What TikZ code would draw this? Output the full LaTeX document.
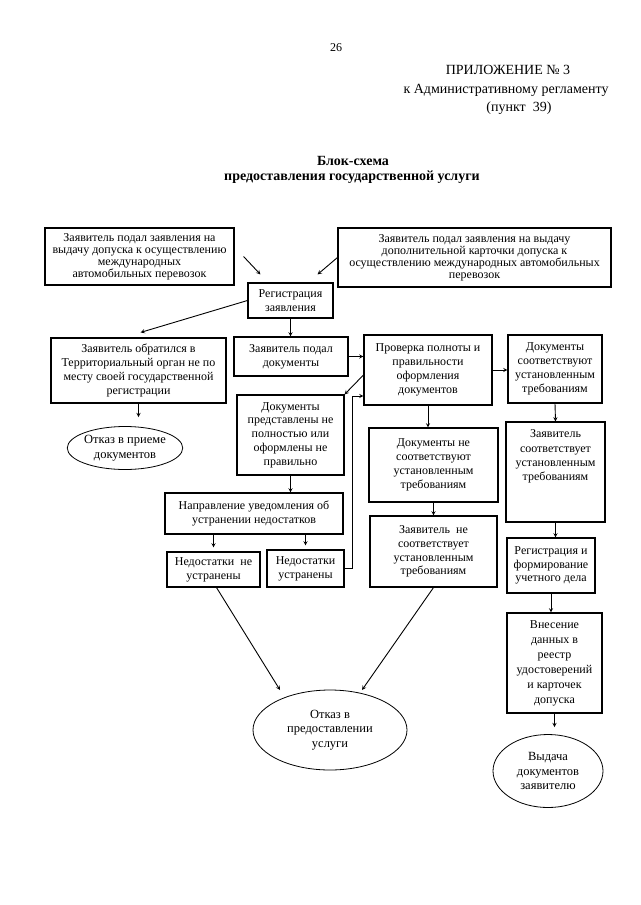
\documentclass[tikz,border=0pt]{standalone}
\usepackage{fontspec}
\setmainfont{Liberation Serif}
\usetikzlibrary{shapes.geometric,calc}

\begin{document}
\begin{tikzpicture}[x=1pt,y=-1pt,>=stealth,
 box/.style={draw,line width=1.1pt,align=center,inner sep=1pt,font=\fontsize{12}{13.8}\selectfont},
 tight/.style={font=\fontsize{12}{12}\selectfont},
 oval/.style={draw,ellipse,line width=0.8pt,align=center,inner sep=0pt,font=\fontsize{12.5}{14.5}\selectfont},
 link/.style={->,line width=0.9pt}]
\useasboundingbox (0,0) rectangle (640,905);
\node[font=\fontsize{12}{14}\selectfont] (pg) at (336,48) {26};
\node[font=\fontsize{14}{16}\selectfont] (pril) at (508,70) {ПРИЛОЖЕНИЕ № 3};
\node[font=\fontsize{14}{16}\selectfont] (reglam) at (506,90) {к Административному регламенту};
\node[font=\fontsize{14}{16}\selectfont] (punkt) at (519,108) {(пункт~ 39)};
\node[font=\fontsize{14}{16}\selectfont\bfseries] (title1) at (353,161) {Блок-схема};
\node[font=\fontsize{14}{16}\selectfont\bfseries] (title2) at (352,177) {предоставления государственной услуги};
% applications
\node[box,tight,minimum width=189pt,minimum height=57pt] (zay1) at (139.5,256.5)
 {Заявитель подал заявления на\\выдачу допуска к осуществлению\\международных\\автомобильных перевозок};
\node[box,tight,minimum width=273pt,minimum height=59pt] (zay2) at (474.5,257.5)
 {Заявитель подал заявления на выдачу\\дополнительной карточки допуска к\\осуществлению международных автомобильных\\перевозок};
\node[box,minimum width=85pt,minimum height=35pt] (reg) at (290.5,300.5) {Регистрация\\заявления};
% left branch
\node[box,minimum width=175pt,minimum height=65pt] (terr) at (138.5,370.5)
 {Заявитель обратился в\\Территориальный орган не по\\месту своей государственной\\регистрации};
\node[oval,minimum width=114pt,minimum height=43pt] (otk1) at (125,448) {Отказ в приеме\\документов};
% check of documents
\node[box,minimum width=114pt,minimum height=39pt] (podal) at (291,356.5) {Заявитель подал\\документы};
\node[box,minimum width=128pt,minimum height=70pt] (prov) at (428,370)
 {Проверка полноты и\\правильности\\оформления\\документов};
\node[box,minimum width=107pt,minimum height=80pt] (nepoln) at (290.5,435)
 {Документы\\представлены не\\полностью или\\оформлены не\\правильно};
\node[box,minimum width=178pt,minimum height=41pt] (naprav) at (254,513.5)
 {Направление уведомления об\\устранении недостатков};
\node[box,minimum width=93pt,minimum height=35pt] (neustr) at (213.5,569.5) {Недостатки~ не\\устранены};
\node[box,minimum width=77pt,minimum height=37pt] (ustr) at (305.5,568.5) {Недостатки\\устранены};
\node[box,minimum width=129pt,minimum height=74pt] (nesoot) at (433.5,465)
 {Документы не\\соответствуют\\установленным\\требованиям};
\node[box,minimum width=127pt,minimum height=71pt] (zne) at (433.5,551.5)
 {Заявитель~ не\\соответствует\\установленным\\требованиям};
\node[oval,minimum width=154pt,minimum height=80pt] (otk2) at (330,730) {Отказ в\\предоставлении\\услуги};
% right branch
\node[box,minimum width=94pt,minimum height=68pt] (soot) at (555,369)
 {Документы\\соответствуют\\установленным\\требованиям};
\node[box,minimum width=99pt,minimum height=100pt,
 label={[anchor=north,yshift=-5pt,align=center,font=\fontsize{12}{14.3}\selectfont]north:{Заявитель\\соответствует\\установленным\\требованиям}}] (zsoot) at (555.5,472) {};
\node[box,minimum width=88pt,minimum height=55pt] (regf) at (551,565.5)
 {Регистрация и\\формирование\\учетного дела};
\node[box,font=\fontsize{12}{15}\selectfont,minimum width=95pt,minimum height=100pt] (vnes) at (554.5,663)
 {Внесение\\данных в\\реестр\\удостоверений\\и карточек\\допуска};
\node[oval,minimum width=110pt,minimum height=73pt] (vyd) at (548,771) {Выдача\\документов\\заявителю};
% connectors
\draw[link] ($(zay1.east)+(9,0)$) -- ($(reg.north west)+(13,-8)$);
\draw[link] (zay2.west) -- ($(reg.north east)+(-16,-8)$);
\draw[link] (reg.west) -- ($(terr.north)+(2,-5)$);
\draw[link] (reg.south) -- (reg.south |- podal.north);
\draw[link,shorten >=9pt] (terr.south) -- (terr.south |- otk1.north);
\draw[link] (podal.east) -- (podal.east -| prov.west);
\draw[link] ($(prov.west)+(0,5)$) -- (nepoln.north east);
\draw[link] (ustr.east) -- ++(8,0) |- ($(prov.west)+(0,26)$);
\draw[link] (prov.east) -- (prov.east -| soot.west);
\draw[link] (soot.south) -- (zsoot.north);
\draw[link] (prov.south) -- (prov.south |- nesoot.north);
\draw[link] (nesoot.south) -- (zne.north);
\draw[link] (nepoln.south) -- (nepoln.south |- naprav.north);
\draw[link,shorten >=4pt] (neustr.north |- naprav.south) -- (neustr.north);
\draw[link,shorten >=4pt] (ustr.north |- naprav.south) -- (ustr.north);
\draw[link] ($(neustr.south)+(3,0)$) -- ($(otk2.center)+(-50,-40)$);
\draw[link] (zne.south) -- ($(otk2.center)+(32,-40)$);
\draw[link] (zsoot.south) -- (zsoot.south |- regf.north);
\draw[link] (regf.south) -- (regf.south |- vnes.north);
\draw[link,shorten >=7pt] (vnes.south) -- (vnes.south |- vyd.north);
\end{tikzpicture}
\end{document}
